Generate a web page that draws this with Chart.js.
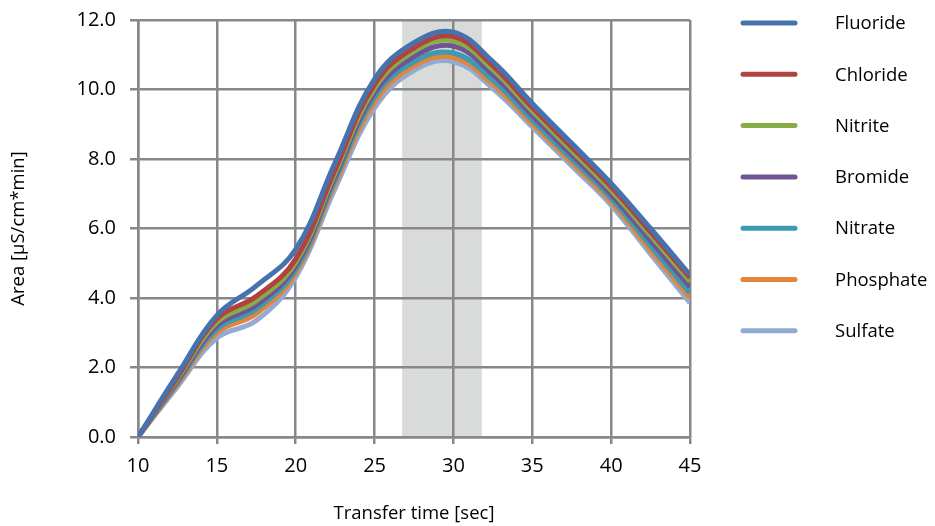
<!DOCTYPE html>
<html>
<head>
<meta charset="utf-8">
<script src="https://cdn.jsdelivr.net/npm/chart.js@4/dist/chart.umd.min.js"></script>
<style>
html,body{margin:0;padding:0;background:#fff;}
#wrap{width:935px;height:526px;position:relative;}
</style>
</head>
<body>
<div id="wrap"><canvas id="c" width="935" height="526"></canvas></div>
<script>
// ---- data ----
const times = [10, 12.5, 15, 17.5, 20, 22.5, 25, 27.5, 30, 32.5, 35, 37.5, 40, 42.5, 45];
const fluoride  = [0, 1.80, 3.50, 4.35, 5.40, 7.90, 10.30, 11.35, 11.65, 10.80, 9.60, 8.45, 7.30, 6.00, 4.66];
const chloride  = [0, 1.72, 3.40, 4.05, 5.12, 7.70, 10.15, 11.20, 11.52, 10.68, 9.48, 8.34, 7.20, 5.90, 4.58];
const nitrite   = [0, 1.67, 3.30, 3.92, 5.02, 7.60, 10.03, 11.10, 11.40, 10.57, 9.38, 8.24, 7.10, 5.80, 4.48];
const bromide   = [0, 1.62, 3.20, 3.80, 4.92, 7.50, 9.90, 10.95, 11.25, 10.43, 9.25, 8.12, 6.98, 5.65, 4.32];
const nitrate   = [0, 1.57, 3.10, 3.68, 4.82, 7.40, 9.78, 10.80, 11.05, 10.27, 9.12, 8.00, 6.87, 5.50, 4.14];
const phosphate = [0, 1.52, 3.00, 3.55, 4.72, 7.30, 9.64, 10.68, 10.92, 10.15, 9.02, 7.90, 6.77, 5.38, 4.00];
const sulfate   = [0, 1.45, 2.85, 3.35, 4.60, 7.15, 9.47, 10.55, 10.80, 10.03, 8.92, 7.80, 6.67, 5.26, 3.86];
const seriesNames = ["Fluoride", "Chloride", "Nitrite", "Bromide", "Nitrate", "Phosphate", "Sulfate"];
const seriesValues = [fluoride, chloride, nitrite, bromide, nitrate, phosphate, sulfate];
const seriesColors = ["#4672ad", "#b0433f", "#8aac47", "#6f5597", "#3d9ab0", "#e4843a", "#93aad2"];
const bandStart = 26.75, bandEnd = 31.8;
const xTitle = "Transfer time [sec]";
const yTitle = "Area [µS/cm*min]";

const FONT = "'Open Sans', 'Noto Sans', sans-serif";
const GRID = "#888888";

const datasets = seriesNames.map((n, i) => ({
  label: n,
  data: times.map((t, j) => ({x: t, y: seriesValues[i][j]})),
  borderColor: seriesColors[i],
  backgroundColor: seriesColors[i],
  borderWidth: 5,
  pointRadius: 0,
  tension: 0.4,
  fill: false
}));

const bandPlugin = {
  id: 'band',
  beforeDraw(chart) {
    const {ctx, chartArea, scales} = chart;
    const x0 = scales.x.getPixelForValue(bandStart);
    const x1 = scales.x.getPixelForValue(bandEnd);
    ctx.save();
    ctx.fillStyle = "#d9dbdb";
    ctx.fillRect(x0, chartArea.top, x1 - x0, chartArea.bottom - chartArea.top);
    ctx.restore();
  }
};

const legendPlugin = {
  id: 'customLegend',
  afterDraw(chart) {
    const ctx = chart.ctx;
    ctx.save();
    chart.data.datasets.forEach((ds, i) => {
      const y = 23 + i * 51.3;
      ctx.strokeStyle = ds.borderColor;
      ctx.lineWidth = 5;
      ctx.lineCap = 'round';
      ctx.beginPath();
      ctx.moveTo(743, y);
      ctx.lineTo(795, y);
      ctx.stroke();
      ctx.fillStyle = "#000";
      ctx.font = "18.5px " + FONT;
      ctx.textBaseline = 'middle';
      ctx.textAlign = 'left';
      ctx.fillText(ds.label, 835, y + 1);
    });
    ctx.restore();
  }
};

new Chart(document.getElementById('c'), {
  type: 'line',
  data: {datasets},
  plugins: [bandPlugin, legendPlugin],
  options: {
    responsive: false,
    animation: false,
    layout: {padding: {left: 0, right: 245, top: 20, bottom: 0}},
    plugins: {legend: {display: false}, tooltip: {enabled: false}},
    scales: {
      x: {
        type: 'linear', min: 10, max: 45,
        afterFit(s) { s.height = 89; s.paddingLeft = 0; s.paddingRight = 0; },
        ticks: {stepSize: 5, color: "#000", font: {family: FONT, size: 20}, padding: 10},
        grid: {color: GRID, lineWidth: 2.5, tickLength: 7, tickColor: GRID},
        border: {color: GRID, width: 2.5},
        title: {display: true, text: xTitle, color: "#000", font: {family: FONT, size: 18.5}, padding: {top: 0, bottom: 1}}
      },
      y: {
        min: 0, max: 12,
        afterFit(s) { s.width = 138; s.paddingTop = 0; s.paddingBottom = 0; },
        ticks: {stepSize: 2, color: "#000", font: {family: FONT, size: 20}, padding: 14,
          callback: v => Number(v).toFixed(1)},
        grid: {color: GRID, lineWidth: 2.5, tickLength: 8, tickColor: GRID},
        border: {color: GRID, width: 2.5},
        title: {display: true, text: yTitle, color: "#000", font: {family: FONT, size: 18.5}, padding: {top: 8, bottom: 0}}
      }
    }
  }
});
</script>
</body>
</html>
